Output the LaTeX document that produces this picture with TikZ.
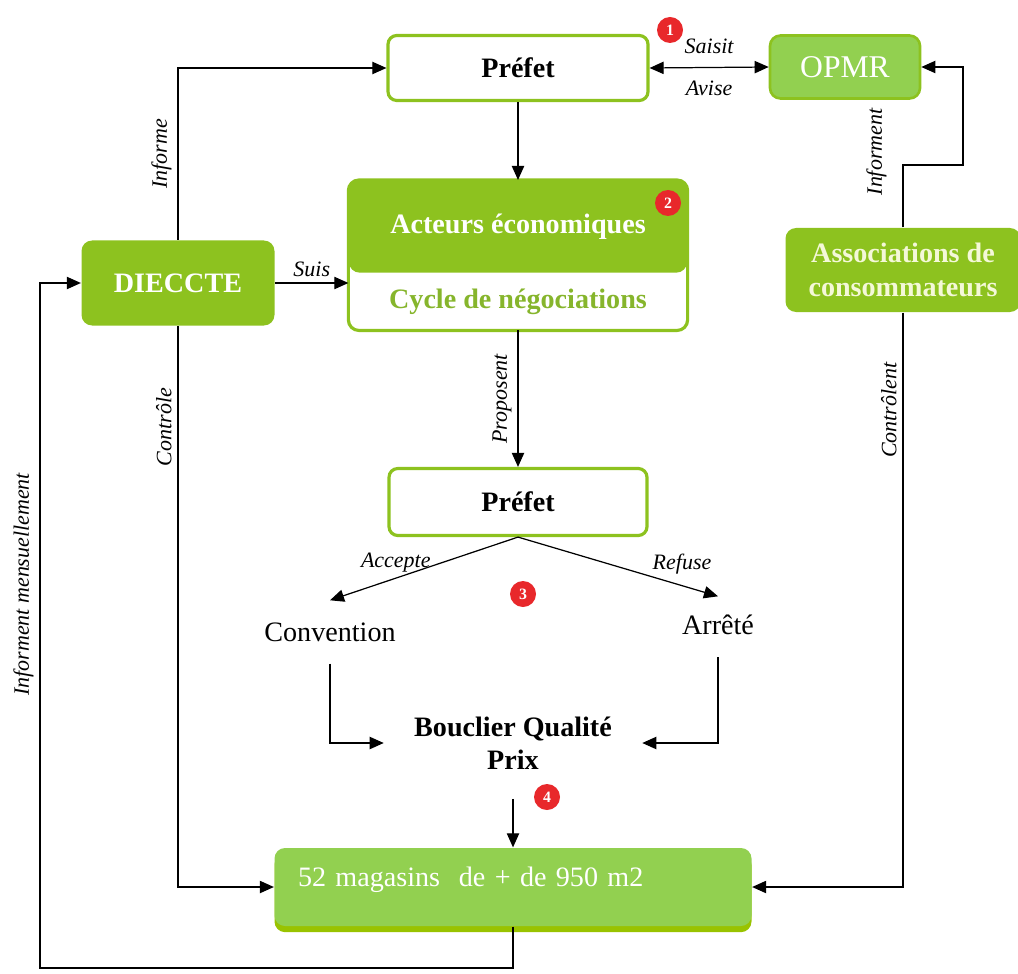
\documentclass[tikz,border=0pt]{standalone}
\usepackage{fontspec}
\setmainfont{Liberation Serif}
\usetikzlibrary{arrows.meta,shadows}

\definecolor{cgreen}{HTML}{8DC21F}
\definecolor{lgreen}{HTML}{92D050}
\definecolor{mshadow}{HTML}{99C300}
\definecolor{cycletext}{HTML}{86B52C}
\definecolor{assoctext}{HTML}{F4F8D8}
\definecolor{badgered}{HTML}{E8282B}

\tikzset{
	whitebox/.style={draw=cgreen, line width=1.8pt, rounded corners=5pt, fill=white, font=\bfseries\fontsize{16}{19}\selectfont},
	greenbox/.style={fill=cgreen, rounded corners=6pt, text=white, align=center, font=\bfseries\fontsize{16}{19}\selectfont},
	lightbox/.style={fill=lgreen, rounded corners=6pt, text=white},
	lbl/.style={font=\itshape\fontsize{12.5}{14}\selectfont},
	vlbl/.style={lbl, rotate=90, anchor=south},
	outtxt/.style={font=\fontsize{16}{19}\selectfont},
	badge/.style={circle, fill=badgered, text=white, inner sep=0pt, minimum size=0.52cm, font=\bfseries\fontsize{9}{9}\selectfont},
}

\begin{document}
\begin{tikzpicture}[x=0.2mm, y=-0.2mm, >={Triangle[length=8pt,width=7pt]}, line width=0.7pt]
	\useasboundingbox (0,0) rectangle (1018,973);

	% boxes
	\node[whitebox, minimum width=5.2cm, minimum height=1.3cm] (prefet) at (518,68) {Préfet};
	\node[lightbox, draw=cgreen, line width=1.5pt, minimum width=3cm, minimum height=1.26cm, font=\fontsize{18}{20}\selectfont] (opmr) at (845,67) {OPMR};
	\node[greenbox, minimum width=6.76cm, minimum height=1.84cm, anchor=north] (acteurs) at (518,180) {Acteurs économiques};
	\node[minimum width=6.76cm, minimum height=1.12cm, anchor=north, text=cycletext, font=\bfseries\fontsize{16}{19}\selectfont] (cycle) at (acteurs.south) {Cycle de négociations};
	\draw[draw=cgreen, line width=1.8pt, rounded corners=6pt] (acteurs.north west) rectangle (cycle.south east);
	\node[greenbox, minimum width=3.86cm, minimum height=1.7cm] (dieccte) at (178,283) {DIECCTE};
	\node[greenbox, text=assoctext, minimum width=4.7cm, minimum height=1.68cm] (assoc) at (903,270) {Associations de\\consommateurs};
	\node[whitebox, minimum width=5.16cm, minimum height=1.34cm] (prefetb) at (518,502) {Préfet};
	\node[outtxt] (convention) at (330,632) {Convention};
	\node[outtxt] (arrete) at (718,625) {Arrêté};
	\node[outtxt, font=\bfseries\fontsize{16}{19}\selectfont, align=center, inner xsep=17pt] (bouclier) at (513,743) {Bouclier Qualité\\Prix};
	\node[lightbox, minimum width=9.54cm, minimum height=1.56cm, text width=8.6cm, align=left, text depth=0.4cm, font=\fontsize{16}{19}\selectfont,
		drop shadow={shadow xshift=0pt, shadow yshift=-3.5pt, fill=mshadow, opacity=1}] (magasins) at (513,887) {52 magasins\ \ de + de 950 m2};

	% badges
	\node[badge] (b1) at (670,30) {1};
	\node[badge] (b2) at (668,203) {2};
	\node[badge] (b3) at (523,594) {3};
	\node[badge] (b4) at (547,797) {4};

	% connectors
	\draw[<->] (prefet.east) -- (opmr.west) node[lbl, midway, above, yshift=4pt] {Saisit} node[lbl, midway, below, yshift=-4pt] {Avise};
	\draw[->] (prefet.south) -- (acteurs.north);
	\draw[->] (dieccte.east) -- (dieccte.east -| cycle.west) node[lbl, midway, above] {Suis};
	\draw[->] (dieccte.north) |- (prefet.west) node[vlbl, pos=0.25] {Informe};
	\draw[->] (dieccte.south) |- (magasins.west) node[vlbl, pos=0.09] {Contrôle};
	\coordinate (bottomleft) at (40,968);
	\draw[->] (magasins.south) |- (bottomleft) |- (dieccte.west) node[vlbl, pos=0.28] {Informent mensuellement};
	\coordinate (opmrturn) at (963,165);
	\draw[->] (assoc.north) |- (opmrturn) |- (opmr.east);
	\node[vlbl] (informent) at (893,152) {Informent};
	\draw[->] (assoc.south) |- (magasins.east) node[vlbl, pos=0.085] {Contrôlent};
	\draw[->] (cycle.south) -- (prefetb.north) node[vlbl, midway] {Proposent};
	\draw[->] (prefetb.south) -- ([yshift=9pt]convention.north) node[lbl, pos=0.65, above] {Accepte};
	\draw[->] (prefetb.south) -- ([yshift=7pt]arrete.north) node[lbl, pos=0.82, above, yshift=3pt] {Refuse};
	\draw[->, shorten <=9pt] (convention.south) |- (bouclier.west);
	\draw[->, shorten <=9pt] (arrete.south) |- (bouclier.east);
	\draw[->, shorten <=13pt] (bouclier.south) -- (magasins.north);
\end{tikzpicture}
\end{document}
